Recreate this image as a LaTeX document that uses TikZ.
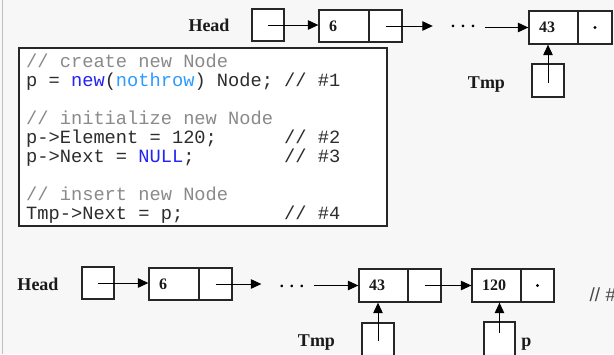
\documentclass[tikz,border=0pt]{standalone}
\usepackage{fontspec}
\setmainfont{Liberation Serif}
\setmonofont{Liberation Mono}
\setsansfont{Liberation Sans}
\usetikzlibrary{arrows.meta}
\definecolor{bg}{HTML}{F7F7F7}
\definecolor{edge}{HTML}{BDBDBD}
\definecolor{ink}{HTML}{1A1A1A}
\definecolor{codeink}{HTML}{2C2C2C}
\definecolor{cmt}{HTML}{8A8A8A}
\definecolor{kw}{HTML}{2424F4}
\definecolor{kwlight}{HTML}{2E9BFF}
\definecolor{boxline}{HTML}{262626}
\tikzset{
  cell/.style={draw=boxline, line width=1.3pt, fill=white, inner sep=0pt,
    minimum height=#1},
  cell/.default=32pt,
  valcell/.style={cell=#1, inner xsep=10pt, align=left,
    font=\bfseries\fontsize{16}{16}\selectfont, text=ink},
  lbl/.style={font=\bfseries\fontsize{18}{18}\selectfont, text=ink, inner sep=0pt, anchor=base},
  ptr/.style={draw=black, line width=1pt, -{Triangle[length=10.5pt,width=9.5pt]}},
  codeln/.style={font=\ttfamily\fontsize{18.7}{19}\selectfont, text=codeink, inner sep=0pt, anchor=base west},
  nil/.style={circle, fill=black, inner sep=0pt, minimum size=3.2pt},
  ell/.style={inner sep=0pt, minimum height=10pt, font=\bfseries\fontsize{16}{16}\selectfont}
}
\begin{document}
\begin{tikzpicture}[x=1pt,y=-1pt]
  % canvas
  \useasboundingbox (0,0) rectangle (614,354);
  \clip (0,0) rectangle (614,354);
  \fill[bg] (0,0) rectangle (614,354);
  \draw[edge, line width=1.5pt] (2.7,0) -- (2.7,354);

  % ---------- list before the insertion ----------
  \node[lbl] (headT) at (209,31.7) {Head};
  \node[cell, minimum width=32pt] (hT) at (268,25) {};
  \node[valcell=32pt, minimum width=50pt, text width=30pt] (n6Tv) at (344,26) {6};
  \node[cell, minimum width=33pt] (n6Tp) at (385.5,26) {};
  \node[ell, minimum width=52pt] (dotsT) at (459,26) {\hspace{8pt}.\hspace{6pt}.\hspace{6pt}.};
  \node[valcell=33pt, minimum width=49pt, text width=29pt] (n43Tv) at (553.5,27.5) {43};
  \node[cell=33pt, minimum width=34pt] (n43Tp) at (595,27.5) {};
  \node[nil] (nilT) at (n43Tp.center) {};
  \node[lbl] (tmpTl) at (486.5,88.3) {Tmp};
  \node[cell=33pt, minimum width=32pt] (tmpT) at (548,80.5) {};

  \draw[ptr] (hT.center) -- (hT.center -| n6Tv.west);
  \draw[ptr] (n6Tp.center) -- (n6Tp.center -| dotsT.west);
  \draw[ptr] (dotsT.east |- n43Tv.west) -- (n43Tv.west);
  \draw[ptr] ([yshift=-2pt]tmpT.center) -- (tmpT.center |- n43Tv.south);

  % ---------- code listing ----------
  \node[draw=boxline, line width=1.3pt, fill=white, minimum width=368pt,
        minimum height=178pt, inner sep=0pt] (codebox) at (203,137) {};
  \node[codeln] (c1) at (26,67) {\color{cmt}// create new Node};
  \node[codeln] (c2) at (26,86) {p = \textcolor{kw}{new}(\textcolor{kwlight}{nothrow}) Node;};
  \node[codeln] (c2n) at (284,86) {// \#1};
  \node[codeln] (c4) at (26,124) {\color{cmt}// initialize new Node};
  \node[codeln] (c5) at (26,143) {p->Element = 120;};
  \node[codeln] (c5n) at (284,143) {// \#2};
  \node[codeln] (c6) at (26,162) {p->Next = \textcolor{kw}{NULL};};
  \node[codeln] (c6n) at (284,162) {// \#3};
  \node[codeln] (c8) at (26,200) {\color{cmt}// insert new Node};
  \node[codeln] (c9) at (26,219) {Tmp->Next = p;};
  \node[codeln] (c9n) at (284,219) {// \#4};

  % ---------- list after the insertion ----------
  \node[lbl] (headB) at (38,290) {Head};
  \node[cell, minimum width=32pt] (hB) at (98,283) {};
  \node[valcell=32pt, minimum width=50pt, text width=30pt] (n6Bv) at (174,284) {6};
  \node[cell, minimum width=33pt] (n6Bp) at (215.5,284) {};
  \node[ell, minimum width=52.5pt] (dotsB) at (287.8,286) {\hspace{8pt}.\hspace{6pt}.\hspace{6pt}.};
  \node[valcell=33pt, minimum width=49pt, text width=29pt] (n43Bv) at (383.5,285.5) {43};
  \node[cell=33pt, minimum width=33pt] (n43Bp) at (424.5,285.5) {};
  \node[valcell=33pt, minimum width=49pt, text width=29pt] (n120Bv) at (496.5,285.5) {120};
  \node[cell=33pt, minimum width=33pt] (n120Bp) at (537.5,285.5) {};
  \node[nil] (nilB) at (n120Bp.center) {};
  \node[lbl] (tmpBl) at (316.5,346.5) {Tmp};
  \node[cell=36pt, minimum width=32pt] (tmpB) at (378,341) {};
  \node[cell=38pt, minimum width=31pt] (pB) at (499.5,341) {};
  \node[lbl] (pBl) at (526.5,346) {p};
  \node[font=\sffamily\fontsize{19}{19}\selectfont, text=ink!80, inner sep=0pt, anchor=base west] (stepB) at (589.5,301) {// \#};

  \draw[ptr] (hB.center) -- (hB.center -| n6Bv.west);
  \draw[ptr] (n6Bp.center) -- (n6Bp.center -| dotsB.west);
  \draw[ptr] (dotsB.east |- n43Bv.west) -- (n43Bv.west);
  \draw[ptr] (n43Bp.center) -- (n120Bv.west);
  \draw[ptr] (tmpB.center) -- (tmpB.center |- n43Bv.south);
  \draw[ptr] ([yshift=8pt]pB.center) -- (pB.center |- n120Bv.south);
\end{tikzpicture}
\end{document}
